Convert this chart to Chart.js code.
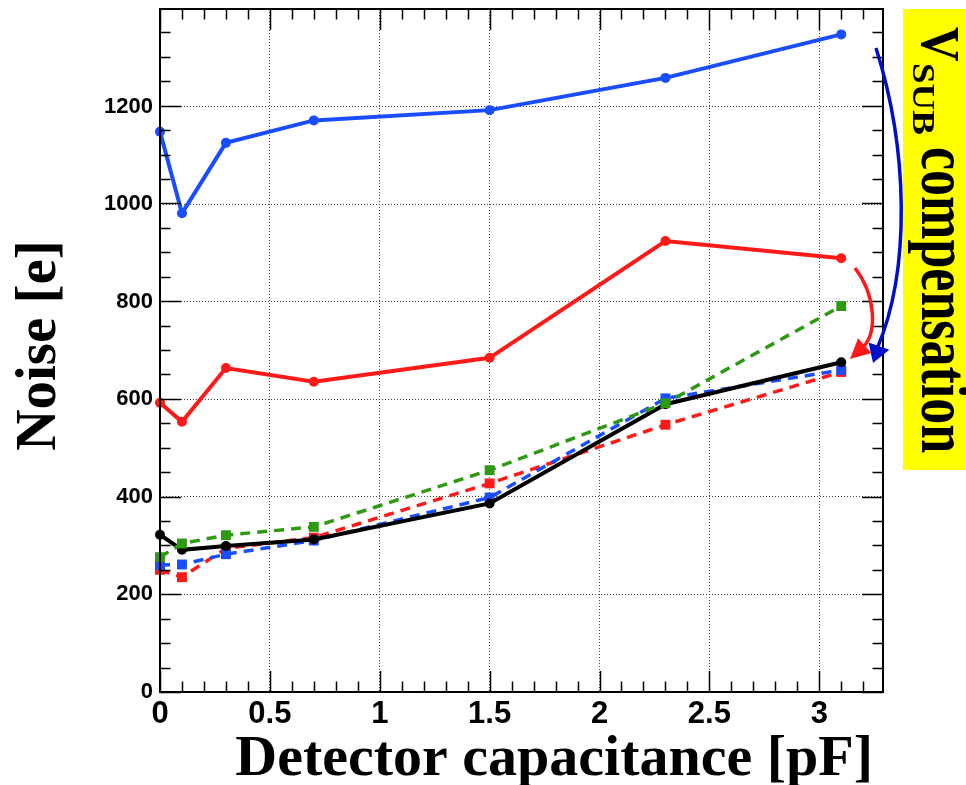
<!DOCTYPE html>
<html>
<head>
<meta charset="utf-8">
<script src="https://cdn.jsdelivr.net/npm/chart.js@4/dist/chart.umd.min.js"></script>
<style>
html,body{margin:0;padding:0;background:#fff;}
#wrap{width:966px;height:785px;position:relative;}
</style>
</head>
<body>
<div id="wrap"><canvas id="c" width="966" height="785"></canvas></div>
<script>
// ---- data ----
const capacitance = [0, 0.1, 0.3, 0.7, 1.5, 2.3, 3.1];
const blueSolid   = [1147, 980, 1124, 1170, 1191, 1257, 1346];
const redSolid    = [592, 553, 663, 635, 684, 923, 888];
const blackSolid  = [322, 291, 299, 312, 386, 589, 675];
const greenDashed = [276, 304, 321, 338, 454, 591, 790];
const blueDashed  = [260, 261, 282, 310, 398, 601, 659];
const redDashed   = [250, 235, 294, 316, 427, 547, 655];
const xTickLabels = ['0', '0.5', '1', '1.5', '2', '2.5', '3'];
const yTickLabels = ['0', '200', '400', '600', '800', '1000', '1200'];
const xTitle = 'Detector capacitance [pF]';
const yTitle = 'Noise [e]';
const sideMain = 'V';
const sideSub = 'SUB';
const sideRest = 'compensation';

const BLUE = '#1a4dff', RED = '#ff1a1a', GREEN = '#2e9a14', BLACK = '#000000';

function pts(ys){ return capacitance.map((x,i)=>({x:x, y:ys[i]})); }

function solid(label, ys, color){
  return {label, data: pts(ys), borderColor: color, backgroundColor: color,
    borderWidth: 4, pointStyle: 'circle', pointRadius: 5, pointHoverRadius: 5,
    pointBorderWidth: 0, tension: 0, clip: false, fill: false};
}
function dashed(label, ys, color){
  return {label, data: pts(ys), borderColor: color, backgroundColor: color,
    borderWidth: 3.5, borderDash: [10, 7], pointStyle: 'rect', pointRadius: 7, pointHoverRadius: 7,
    pointBorderWidth: 0, tension: 0, clip: false, fill: false};
}

const datasets = [
  solid('blue', blueSolid, BLUE),
  solid('red', redSolid, RED),
  dashed('green dashed', greenDashed, GREEN),
  solid('black', blackSolid, BLACK),
  dashed('blue dashed', blueDashed, BLUE),
  dashed('red dashed', redDashed, RED)
];

const framePlugin = {
  id: 'frame',
  afterDatasetsDraw(chart){
    const ctx = chart.ctx, a = chart.chartArea;
    const xs = chart.scales.x, ys = chart.scales.y;
    ctx.save();
    ctx.strokeStyle = '#000';
    ctx.lineWidth = 1.5;
    for (let v = 0; v <= ys.max + 1e-6; v += 50) {
      const p = Math.round(ys.getPixelForValue(v)) + 0.5;
      const L = (v % 200 === 0) ? 21 : 10.5;
      ctx.beginPath();
      ctx.moveTo(a.left, p); ctx.lineTo(a.left + L, p);
      ctx.moveTo(a.right, p); ctx.lineTo(a.right - L, p);
      ctx.stroke();
    }
    for (let i = 0; i * 0.1 <= xs.max + 1e-6; i++) {
      const v = i * 0.1;
      const p = Math.round(xs.getPixelForValue(v)) + 0.5;
      const L = (i % 5 === 0) ? 21 : 10.5;
      ctx.beginPath();
      ctx.moveTo(p, a.bottom); ctx.lineTo(p, a.bottom - L);
      ctx.moveTo(p, a.top); ctx.lineTo(p, a.top + L);
      ctx.stroke();
    }
    ctx.lineWidth = 2;
    ctx.strokeRect(a.left, a.top, a.right - a.left, a.bottom - a.top);
    ctx.restore();
  },
  afterDraw(chart){
    const ctx = chart.ctx, a = chart.chartArea;
    const R = a.right, T = a.top;

    // axis titles
    ctx.save();
    ctx.fillStyle = '#000';
    ctx.font = 'bold 58px "Liberation Serif"';
    ctx.textAlign = 'right';
    ctx.textBaseline = 'alphabetic';
    ctx.fillText(xTitle, R - 10, a.bottom + 83);
    ctx.save();
    ctx.translate(a.left - 105, (a.top + a.bottom) / 2 - 5);
    ctx.rotate(-Math.PI / 2);
    ctx.textAlign = 'center';
    ctx.font = 'bold 57px "Liberation Serif"';
    ctx.fillText(yTitle, 0, 0);
    ctx.restore();
    ctx.restore();

    ctx.save();
    function head(tx, ty, dx, dy, L, W, color){
      const n = Math.hypot(dx, dy); dx /= n; dy /= n;
      const bx = tx - dx * L, by = ty - dy * L;
      ctx.fillStyle = color;
      ctx.beginPath();
      ctx.moveTo(tx, ty);
      ctx.lineTo(bx - dy * W / 2, by + dx * W / 2);
      ctx.lineTo(bx + dy * W / 2, by - dx * W / 2);
      ctx.closePath();
      ctx.fill();
    }
    ctx.lineWidth = 3.5;
    ctx.strokeStyle = RED;
    ctx.beginPath();
    ctx.moveTo(R - 28, T + 259);
    ctx.bezierCurveTo(R - 8, T + 285, R - 4, T + 325, R - 22, T + 340);
    ctx.stroke();
    head(R - 33, T + 350, -1.1, 1, 20, 20, RED);
    ctx.strokeStyle = '#0010c8';
    ctx.beginPath();
    ctx.moveTo(R - 7, T + 39);
    ctx.bezierCurveTo(R + 25, T + 140, R + 28, T + 260, R - 6, T + 340);
    ctx.stroke();
    head(R - 10, T + 354, -0.35, 1, 18, 22, '#0010c8');
    ctx.restore();

    // side label
    ctx.save();
    ctx.fillStyle = '#ffff00';
    ctx.fillRect(R + 20, T, 966 - (R + 20), 461);
    ctx.fillStyle = '#000';
    ctx.translate(R + 39, T + 18);
    ctx.rotate(Math.PI / 2);
    ctx.textBaseline = 'alphabetic';
    ctx.textAlign = 'left';
    ctx.save(); ctx.scale(1, 1.15);
    ctx.font = 'bold 48px "Liberation Serif"';
    ctx.fillText(sideMain, 0, 0);
    ctx.restore();
    ctx.save(); ctx.translate(36, 9); ctx.scale(1, 0.85);
    ctx.font = 'bold 37px "Liberation Serif"';
    ctx.fillText(sideSub, 0, 0);
    ctx.restore();
    ctx.save(); ctx.translate(120, 0); ctx.scale(1, 1.3);
    ctx.font = 'bold 52px "Liberation Serif"';
    ctx.fillText(sideRest, 0, 0);
    ctx.restore();
    ctx.restore();
  }
};

new Chart(document.getElementById('c'), {
  type: 'line',
  data: { datasets },
  options: {
    responsive: false,
    animation: false,
    events: [],
    layout: { padding: { top: 9, right: 83, left: 0, bottom: 0 } },
    plugins: { legend: { display: false }, tooltip: { enabled: false }, title: { display: false } },
    scales: {
      x: {
        type: 'linear', min: 0, max: 3.29,
        afterFit(s){ s.height = 93; s.paddingLeft = 0; s.paddingRight = 0; },
        border: { display: false, dash: [1, 2] },
        grid: { color: '#444', lineWidth: 1, drawTicks: false },
        ticks: {
          stepSize: 0.5, includeBounds: false, padding: 4, color: '#000',
          font: { family: '"Liberation Sans"', size: 31, weight: 'bold' },
          maxRotation: 0, autoSkip: false,
          callback(v){ const i = Math.round(v / 0.5); return xTickLabels[i] !== undefined && Math.abs(v - i*0.5) < 1e-6 ? xTickLabels[i] : ''; }
        }
      },
      y: {
        type: 'linear', min: 0, max: 1398,
        afterFit(s){ s.width = 160; s.paddingTop = 0; s.paddingBottom = 0; },
        border: { display: false, dash: [1, 2] },
        grid: { color: '#444', lineWidth: 1, drawTicks: false },
        ticks: {
          stepSize: 200, includeBounds: false, padding: 7, color: '#000',
          font: { family: '"Liberation Sans"', size: 22, weight: 'bold' },
          autoSkip: false,
          callback(v){ const i = Math.round(v / 200); return yTickLabels[i] !== undefined ? yTickLabels[i] : ''; }
        }
      }
    }
  },
  plugins: [framePlugin]
});
</script>
</body>
</html>
